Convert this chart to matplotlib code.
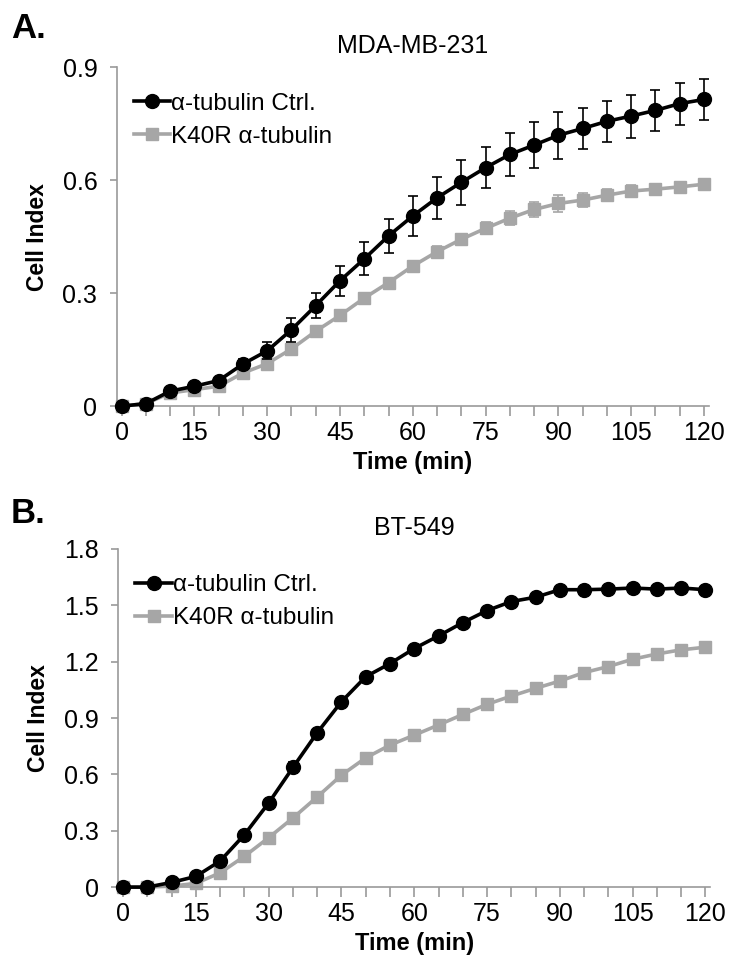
import matplotlib

matplotlib.use("Agg")
import matplotlib.pyplot as plt
from matplotlib.lines import Line2D

# Time points (min) and tick labels
time_min = [0, 5, 10, 15, 20, 25, 30, 35, 40, 45, 50, 55, 60,
            65, 70, 75, 80, 85, 90, 95, 100, 105, 110, 115, 120]

# Panel A: MDA-MB-231
mda_ctrl = [0.0, 0.007, 0.040, 0.053, 0.068, 0.112, 0.147, 0.203, 0.267, 0.333,
            0.391, 0.452, 0.505, 0.553, 0.594, 0.633, 0.668, 0.693, 0.719, 0.737,
            0.756, 0.770, 0.785, 0.803, 0.814]
mda_ctrl_err = [0.0, 0.002, 0.005, 0.005, 0.006, 0.013, 0.023, 0.032, 0.034, 0.040,
                0.044, 0.046, 0.053, 0.055, 0.059, 0.055, 0.057, 0.061, 0.063, 0.055,
                0.054, 0.057, 0.054, 0.056, 0.055]
mda_k40r = [0.0, 0.007, 0.035, 0.044, 0.053, 0.088, 0.113, 0.152, 0.199, 0.241,
            0.287, 0.328, 0.372, 0.410, 0.443, 0.472, 0.499, 0.522, 0.538, 0.547,
            0.560, 0.571, 0.576, 0.582, 0.589]
mda_k40r_err = [0.0, 0.002, 0.003, 0.003, 0.004, 0.006, 0.008, 0.009, 0.010, 0.010,
                0.011, 0.012, 0.013, 0.015, 0.015, 0.016, 0.018, 0.020, 0.022, 0.019,
                0.016, 0.015, 0.012, 0.012, 0.012]

# Panel B: BT-549
bt_ctrl = [0.0, 0.0, 0.025, 0.057, 0.139, 0.279, 0.448, 0.637, 0.822, 0.987,
           1.120, 1.190, 1.270, 1.337, 1.408, 1.472, 1.520, 1.543, 1.583, 1.583,
           1.586, 1.592, 1.586, 1.592, 1.583]
bt_ctrl_err = [0.0, 0.0, 0.004, 0.006, 0.008, 0.012, 0.018, 0.030, 0.020, 0.020,
               0.015, 0.012, 0.010, 0.010, 0.010, 0.010, 0.010, 0.010, 0.012, 0.012,
               0.012, 0.012, 0.012, 0.012, 0.012]
bt_k40r = [0.0, 0.0, 0.005, 0.020, 0.076, 0.164, 0.263, 0.368, 0.480, 0.596,
           0.688, 0.756, 0.809, 0.863, 0.919, 0.973, 1.017, 1.058, 1.097, 1.142,
           1.174, 1.213, 1.241, 1.263, 1.277]
bt_k40r_err = [0.0, 0.0, 0.002, 0.004, 0.006, 0.008, 0.010, 0.012, 0.012, 0.012,
               0.012, 0.014, 0.014, 0.015, 0.016, 0.016, 0.018, 0.018, 0.020, 0.020,
               0.020, 0.020, 0.020, 0.020, 0.020]

labels = ["α-tubulin Ctrl.", "K40R α-tubulin"]
ctrl_col = "black"
k40r_col = "#a6a6a6"
spine_col = "#9a9a9a"
narrow = ["Liberation Sans Narrow", "Liberation Sans", "DejaVu Sans"]
sans = ["Liberation Sans", "DejaVu Sans"]

fig = plt.figure(figsize=(7.3, 9.58), dpi=100)


def draw_panel(ax, ctrl, ctrl_err, k40r, k40r_err, ymax, title):
    ax.errorbar(time_min, k40r, yerr=k40r_err, color=k40r_col, lw=2.6,
                marker="s", ms=9, mec=k40r_col, ecolor=k40r_col, elinewidth=1.2,
                capsize=3.5, capthick=1.2, zorder=2)
    ax.errorbar(time_min, ctrl, yerr=ctrl_err, color=ctrl_col, lw=2.6,
                marker="o", ms=10, ecolor=ctrl_col, elinewidth=1.2,
                capsize=3.5, capthick=1.2, zorder=3)
    ax.set_xlim(-1, 121)
    ax.set_ylim(0, ymax)
    ax.set_xticks(time_min)
    ax.set_xticklabels([str(t) if t % 15 == 0 else "" for t in time_min])
    n = int(round(ymax / 0.3))
    ax.set_yticks([round(v * 0.3, 1) for v in range(n + 1)])
    ax.set_yticklabels(["0" if v == 0 else f"{v * 0.3:.1f}" for v in range(n + 1)])
    for side in ("top", "right"):
        ax.spines[side].set_visible(False)
    for side in ("left", "bottom"):
        ax.spines[side].set_color(spine_col)
        ax.spines[side].set_linewidth(1.2)
    ax.tick_params(axis="x", direction="out", length=7, width=1.2, color=spine_col,
                   labelsize=18, pad=4)
    ax.tick_params(axis="y", direction="out", length=5, width=1.2, color=spine_col,
                   labelsize=18, pad=9)
    for lab in ax.get_xticklabels() + ax.get_yticklabels():
        lab.set_family(narrow)
    ax.set_xlabel("Time (min)", fontsize=17, fontweight="bold", family=narrow, labelpad=4)
    ax.set_ylabel("Cell Index", fontsize=16.5, fontweight="bold", family=sans, labelpad=10)
    ax.set_title(title, fontsize=18, family=sans, pad=10)
    handles = [
        Line2D([0], [0], color=ctrl_col, lw=2.6, marker="o", ms=10),
        Line2D([0], [0], color=k40r_col, lw=2.6, marker="s", ms=9),
    ]
    ax.legend(handles, labels, loc="upper left", bbox_to_anchor=(0.0, 0.975),
              frameon=False, prop={"family": sans, "size": 17.5}, handlelength=1.5,
              handletextpad=0.05, labelspacing=0.45, borderaxespad=0.3)
    for artist in ax.get_children():
        artist.set_clip_on(False)


ax_a = fig.add_axes([0.160, 0.576, 0.811, 0.354])
draw_panel(ax_a, mda_ctrl, mda_ctrl_err, mda_k40r, mda_k40r_err, 0.9, "MDA-MB-231")
ax_b = fig.add_axes([0.162, 0.074, 0.811, 0.353])
draw_panel(ax_b, bt_ctrl, bt_ctrl_err, bt_k40r, bt_k40r_err, 1.8, "BT-549")

fig.text(0.015, 0.970, "A.", fontsize=25, fontweight="bold", family=sans, va="center")
fig.text(0.015, 0.464, "B.", fontsize=25, fontweight="bold", family=sans, va="center")

fig.savefig("out.png", dpi=100, facecolor="white")
